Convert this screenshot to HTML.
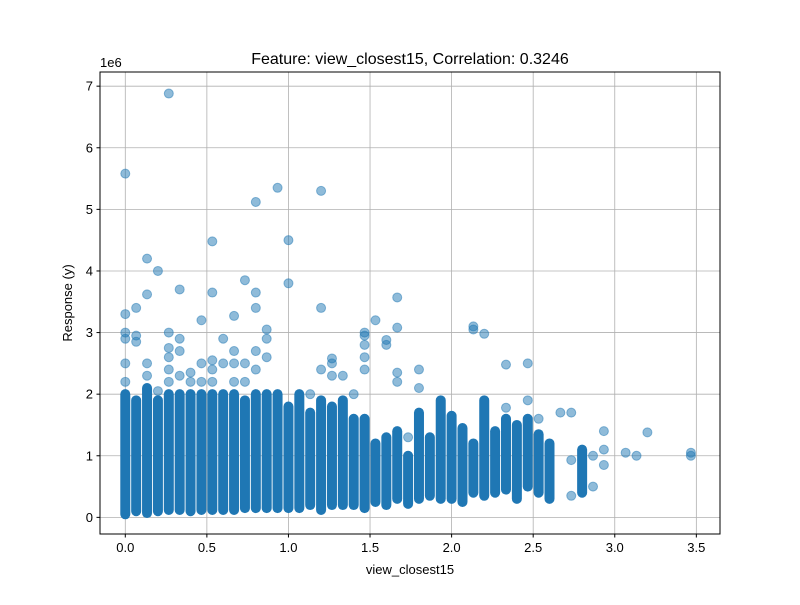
<!DOCTYPE html>
<html><head><meta charset="utf-8"><style>
body{margin:0;background:#fff;font-family:"Liberation Sans","DejaVu Sans",sans-serif}
</style></head><body>
<svg id="chart" width="800" height="600" xmlns="http://www.w3.org/2000/svg" font-family="Liberation Sans, DejaVu Sans, sans-serif">
<rect width="800" height="600" fill="#fff"/>
<g id="grid"></g>
<g id="marks"></g>
<rect x="100" y="72" width="620" height="462" fill="none" stroke="#000" stroke-width="1"/>
<g id="axes"></g>
<text x="410" y="64" text-anchor="middle" font-size="16">Feature: view_closest15, Correlation: 0.3246</text>
<text x="410" y="574" text-anchor="middle" font-size="13">view_closest15</text>
<text transform="translate(72,303) rotate(-90)" text-anchor="middle" font-size="13">Response (y)</text>
<text x="100" y="67" font-size="13">1e6</text>
</svg>
<script>
const xTicks=[0,0.5,1.0,1.5,2.0,2.5,3.0,3.5];
const xTickLabels=["0.0","0.5","1.0","1.5","2.0","2.5","3.0","3.5"];
const yTicks=[0,1,2,3,4,5,6,7];
const yTickLabels=["0","1","2","3","4","5","6","7"];
// dense columns: step index k (x=k/15), low, high (1e6)
const bandK=[0,1,2,3,4,5,6,7,8,9,10,11,12,13,14,15,16,17,18,19,20,21,22,23,24,25,26,27,28,29,30,31,32,33,34,35,36,37,38,39,42];
const bandLo=[0.05,0.1,0.07,0.1,0.12,0.12,0.1,0.12,0.12,0.12,0.12,0.15,0.15,0.15,0.15,0.15,0.15,0.2,0.12,0.2,0.2,0.2,0.15,0.25,0.2,0.3,0.22,0.3,0.35,0.3,0.3,0.25,0.4,0.35,0.4,0.45,0.3,0.5,0.4,0.3,0.4];
const bandHi=[2.0,1.9,2.1,1.9,2.0,2.0,2.0,2.0,2.0,2.0,2.0,1.9,2.0,2.0,2.0,1.8,2.0,1.7,1.9,1.8,1.9,1.6,1.6,1.2,1.3,1.4,1.0,1.7,1.3,1.9,1.65,1.45,1.2,1.9,1.4,1.6,1.5,1.6,1.35,1.2,1.1];
const ptK=[0,0,0,0,0,0,1,1,1,2,2,2,2,3,3,4,4,4,4,4,4,5,5,5,5,6,6,7,7,7,8,8,8,8,8,9,9,10,10,10,10,11,11,11,12,12,12,12,12,13,13,13,14,15,15,17,18,18,18,19,19,19,20,21,22,22,22,22,22,23,24,24,25,25,25,25,26,27,27,32,32,33,35,35,37,37,38,40,41,41,41,43,43,44,44,44,46,47,48,52,52];
const ptY=[2.2,2.5,2.9,3.0,3.3,5.58,2.85,2.95,3.4,2.3,2.5,3.62,4.2,2.05,4.0,2.2,2.4,2.6,2.75,3.0,6.88,2.3,2.7,2.9,3.7,2.2,2.35,2.2,2.5,3.2,2.2,2.4,2.55,3.65,4.48,2.5,2.9,2.2,2.5,2.7,3.27,2.2,2.5,3.85,2.4,2.7,3.4,3.65,5.12,2.6,2.9,3.05,5.35,3.8,4.5,2.0,2.4,3.4,5.3,2.3,2.5,2.58,2.3,2.0,2.4,2.6,2.8,2.95,3.0,3.2,2.8,2.88,2.2,2.35,3.08,3.57,1.3,2.1,2.4,3.05,3.1,2.98,1.78,2.48,1.9,2.5,1.6,1.7,0.35,0.93,1.7,0.5,1.0,0.85,1.1,1.4,1.05,1.0,1.38,1.0,1.05];
const NS="http://www.w3.org/2000/svg";
const X0=100,X1=720,Y0=534,Y1=72;
const xmin=-0.155,xmax=3.645,ymin=-0.27,ymax=7.23;
function sx(v){return X0+(v-xmin)/(xmax-xmin)*(X1-X0);}
function sy(v){return Y0-(v-ymin)/(ymax-ymin)*(Y0-Y1);}
function mk(t,a,p){const e=document.createElementNS(NS,t);for(const k in a)e.setAttribute(k,a[k]);p.appendChild(e);return e;}
const grid=document.getElementById('grid'),axes=document.getElementById('axes'),marks=document.getElementById('marks');
xTicks.forEach((v,i)=>{const x=sx(v);
 const g=mk('line',{x1:x,x2:x,y1:Y1,y2:Y0,stroke:'#b0b0b0','stroke-width':0.8},grid);
 
 
 const t=mk('line',{x1:x,x2:x,y1:Y0,y2:Y0+3.5,stroke:'#000'},axes);
 
 
 const l=mk('text',{x:x,y:Y0+18,'text-anchor':'middle','font-size':13},axes);l.textContent=xTickLabels[i];
 
 
});
yTicks.forEach((v,i)=>{const y=sy(v);
 const g=mk('line',{x1:X0,x2:X1,y1:y,y2:y,stroke:'#b0b0b0','stroke-width':0.8},grid);
 
 
 const t=mk('line',{x1:X0-3.5,x2:X0,y1:y,y2:y,stroke:'#000'},axes);
 
 
 const l=mk('text',{x:X0-7,y:y+4.5,'text-anchor':'end','font-size':13},axes);l.textContent=yTickLabels[i];
 
 
});
bandK.forEach((k,i)=>{const x=sx(k/15);
 const b=mk('line',{x1:x,x2:x,y1:sy(bandLo[i]),y2:sy(bandHi[i]),stroke:'#1f77b4','stroke-width':10,'stroke-linecap':'round','stroke-opacity':1},marks);
 
 
});
ptK.forEach((k,i)=>{
 const c=mk('circle',{cx:sx(k/15),cy:sy(ptY[i]),r:4.5,fill:'#1f77b4','fill-opacity':0.5,stroke:'#1f77b4','stroke-opacity':0.5},marks);
 
 
});
</script>
</body></html>
